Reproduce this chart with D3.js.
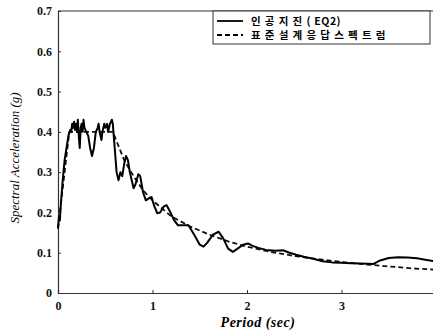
<!DOCTYPE html>
<html lang="ko">
<head>
<meta charset="UTF-8">
<title>Spectral Acceleration</title>
<script src="https://cdn.jsdelivr.net/npm/d3@7"></script>
<style>
  body { margin: 0; background: #fff; }
  svg { display: block; }
</style>
</head>
<body>
<svg id="main" width="433" height="333"></svg>
<script>
// artificial earthquake (EQ2) spectrum
const eqPeriod = [0, 0.01, 0.02, 0.03, 0.05, 0.07, 0.09, 0.11, 0.13, 0.14, 0.15, 0.16, 0.17, 0.18, 0.19, 0.20,
  0.21, 0.22, 0.23, 0.24, 0.25, 0.26, 0.27, 0.28, 0.30, 0.32, 0.34, 0.36, 0.38, 0.40, 0.42, 0.43, 0.44, 0.46,
  0.47, 0.49, 0.50, 0.52, 0.53, 0.55, 0.57, 0.58, 0.60, 0.62, 0.64, 0.66, 0.68, 0.70, 0.72, 0.74, 0.76, 0.78,
  0.80, 0.82, 0.85, 0.87, 0.90, 0.93, 0.96, 0.99, 1.02, 1.05, 1.08, 1.12, 1.15, 1.19, 1.23, 1.27, 1.32, 1.38,
  1.44, 1.50, 1.54, 1.58, 1.64, 1.70, 1.75, 1.80, 1.85, 1.90, 1.96, 2.01, 2.06, 2.12, 2.20, 2.30, 2.38, 2.45,
  2.52, 2.60, 2.70, 2.80, 2.90, 3.00, 3.10, 3.20, 3.34, 3.40, 3.50, 3.60, 3.70, 3.80, 3.90, 4.00];
const eqAccel = [0.16, 0.19, 0.18, 0.22, 0.28, 0.33, 0.36, 0.39, 0.405, 0.40, 0.42, 0.41, 0.425, 0.405, 0.42, 0.40,
  0.43, 0.39, 0.36, 0.41, 0.42, 0.40, 0.43, 0.41, 0.40, 0.39, 0.36, 0.34, 0.36, 0.40, 0.41, 0.42, 0.40, 0.38,
  0.40, 0.42, 0.41, 0.42, 0.40, 0.42, 0.43, 0.42, 0.36, 0.30, 0.28, 0.30, 0.29, 0.32, 0.34, 0.33, 0.30, 0.28,
  0.26, 0.27, 0.295, 0.29, 0.25, 0.23, 0.235, 0.238, 0.215, 0.198, 0.20, 0.215, 0.218, 0.20, 0.18, 0.168, 0.168, 0.168,
  0.145, 0.12, 0.115, 0.125, 0.145, 0.152, 0.135, 0.11, 0.102, 0.11, 0.12, 0.123, 0.117, 0.112, 0.107, 0.105, 0.106, 0.100,
  0.095, 0.09, 0.085, 0.079, 0.076, 0.075, 0.074, 0.073, 0.072, 0.08, 0.087, 0.089, 0.088, 0.086, 0.082, 0.078];

// standard design response spectrum
const dsPeriod = [0, 0.12, 0.58, 0.70, 0.80, 0.90, 1.00, 1.20, 1.40, 1.60, 1.80, 2.00, 2.25, 2.50, 2.75, 3.00, 3.25, 3.50, 3.75, 4.00];
const dsAccel = [0.16, 0.40, 0.40, 0.33, 0.29, 0.255, 0.23, 0.19, 0.165, 0.145, 0.128, 0.115, 0.102, 0.092, 0.084, 0.077, 0.071, 0.066, 0.061, 0.058];

const xTicks = [0, 1, 2, 3, 4];
const yTicks = [0, 0.1, 0.2, 0.3, 0.4, 0.5, 0.6, 0.7];
// legend labels: Korean part, Latin part
const legendLabels = [["인공지진", "( EQ2)"], ["표준설계응답스펙트럼", ""]];

const svg = d3.select("#main");
const plotL = 58, plotR = 436, plotT = 11, plotB = 293;

const x = d3.scaleLinear().domain([0, 4]).range([plotL, plotR]);
const y = d3.scaleLinear().domain([0, 0.7]).range([plotB, plotT]);

// axes
const xAxis = svg.append("g")
  .attr("transform", `translate(0,${plotB})`)
  .call(d3.axisBottom(x).tickValues(xTicks).tickSize(-3).tickPadding(8).tickFormat(d3.format("d")));
const yAxis = svg.append("g")
  .attr("transform", `translate(${plotL},0)`)
  .call(d3.axisLeft(y).tickValues(yTicks).tickSize(-3).tickPadding(6)
    .tickFormat(d => d === 0 ? "0" : d3.format(".1f")(d)));

[xAxis, yAxis].forEach(g => {
  g.select(".domain").attr("stroke", "#333").attr("stroke-width", 1.2);
  g.selectAll(".tick line").attr("stroke", "#333");
  g.selectAll("text")
    .attr("fill", "#111")
    .style("font-family", "'Liberation Serif', 'DejaVu Serif', serif")
    .style("font-weight", "bold")
    .style("font-size", "12px");
});

// top border
svg.append("line")
  .attr("x1", plotL).attr("x2", plotR)
  .attr("y1", plotT).attr("y2", plotT)
  .attr("stroke", "#333").attr("stroke-width", 1.2);

const line = d3.line().x(d => x(d[0])).y(d => y(d[1]));

svg.append("path")
  .datum(d3.zip(dsPeriod, dsAccel))
  .attr("d", line)
  .attr("fill", "none")
  .attr("stroke", "#111")
  .attr("stroke-width", 1.8)
  .attr("stroke-dasharray", "5,3");

svg.append("path")
  .datum(d3.zip(eqPeriod, eqAccel))
  .attr("d", line)
  .attr("fill", "none")
  .attr("stroke", "#000")
  .attr("stroke-width", 2)
  .attr("stroke-linejoin", "round");

// axis titles
svg.append("text")
  .attr("x", 258).attr("y", 327)
  .attr("text-anchor", "middle")
  .style("font-family", "'Liberation Serif', serif")
  .style("font-style", "italic").style("font-weight", "bold")
  .style("font-size", "14px")
  .style("letter-spacing", "0.5px")
  .text("Period (sec)");

svg.append("text")
  .attr("transform", "translate(19,158) rotate(-90)")
  .attr("text-anchor", "middle")
  .style("font-family", "'Liberation Serif', serif")
  .style("font-style", "italic")
  .style("font-size", "13px")
  .text("Spectral Acceleration (g)");

// legend
const lg = svg.append("g");
lg.append("rect")
  .attr("x", 213).attr("y", 11).attr("width", 217).attr("height", 33)
  .attr("fill", "#fff").attr("stroke", "#333").attr("stroke-width", 1);
legendLabels.forEach((label, i) => {
  const ly = 21 + i * 14;
  lg.append("line")
    .attr("x1", 217).attr("x2", 243).attr("y1", ly).attr("y2", ly)
    .attr("stroke", "#000").attr("stroke-width", 1.8)
    .attr("stroke-dasharray", i === 1 ? "5,3" : null);
  const ko = lg.append("text")
    .attr("x", 251).attr("y", ly + 4)
    .style("font-family", "'Noto Sans CJK KR', sans-serif")
    .style("font-weight", "bold")
    .style("font-size", "10.5px")
    .style("letter-spacing", "4.2px")
    .text(label[0]);
  if (label[1]) {
    const w = ko.node().getComputedTextLength();
    lg.append("text")
      .attr("x", 251 + w).attr("y", ly + 4)
      .style("font-family", "'Noto Sans CJK KR', sans-serif")
      .style("font-weight", "bold")
      .style("font-size", "10.5px")
      .style("letter-spacing", "0.5px")
      .text(label[1]);
  }
});
</script>
</body>
</html>
